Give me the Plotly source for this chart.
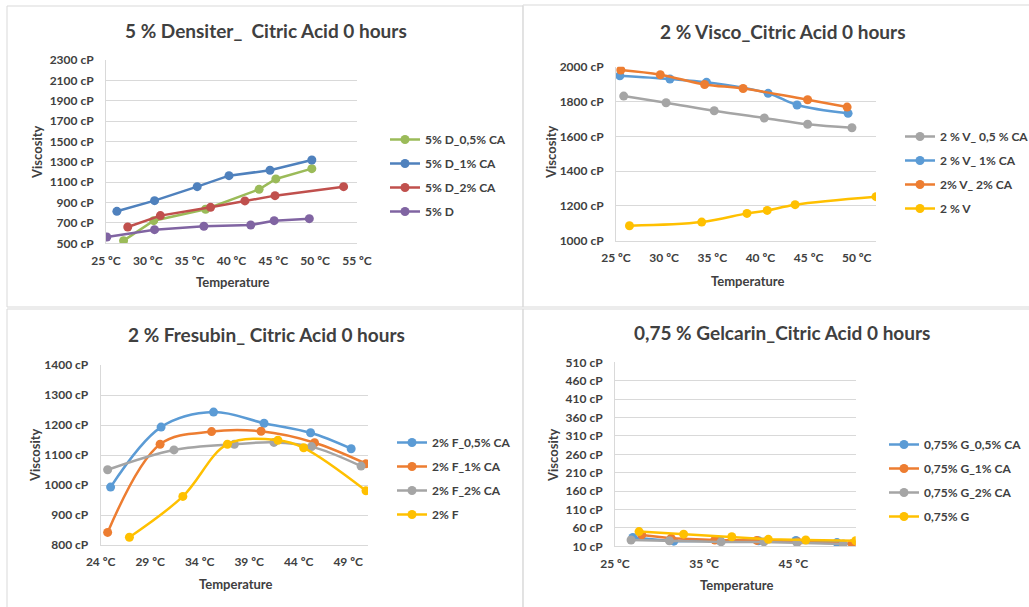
import plotly.graph_objects as go

W, H = 1029, 607

# ---- 5 % Densiter ----
dens_titles = ["5% D_0,5% CA", "5% D_1% CA", "5% D_2% CA", "5% D"]
dens_x = [
    [27.1, 30.7, 36.9, 43.3, 45.3, 49.6],
    [26.3, 30.8, 35.9, 39.7, 44.6, 49.6],
    [27.6, 31.5, 37.5, 41.6, 45.2, 53.4],
    [25.1, 30.8, 36.7, 42.3, 45.1, 49.3],
]
dens_y = [
    [526, 722, 834, 1030, 1132, 1233],
    [814, 919, 1056, 1164, 1217, 1318],
    [660, 772, 853, 916, 968, 1056],
    [562, 634, 667, 680, 722, 742],
]
dens_colors = ["#9bbb59", "#4f81bd", "#c0504d", "#8064a2"]

# ---- 2 % Visco ----
visco_titles = ["2 % V_ 0,5 % CA", "2 % V_ 1% CA", "2% V_ 2% CA", "2 % V"]
visco_x = [
    [25.8, 30.2, 35.2, 40.4, 44.9, 49.5],
    [25.4, 30.6, 34.4, 40.8, 43.8, 49.1],
    [25.5, 29.6, 34.2, 38.2, 44.9, 49.0],
    [26.4, 33.9, 38.6, 40.7, 43.6, 52.0],
]
visco_y = [
    [1831, 1793, 1747, 1705, 1669, 1649],
    [1948, 1929, 1910, 1847, 1780, 1732],
    [1981, 1954, 1898, 1875, 1810, 1768],
    [1086, 1107, 1157, 1174, 1207, 1253],
]

# ---- 2 % Fresubin ----
fres_titles = ["2% F_0,5% CA", "2% F_1% CA", "2% F_2% CA", "2% F"]
fres_x = [
    [25.0, 30.1, 35.4, 40.5, 45.2, 49.3],
    [24.7, 30.0, 35.2, 40.2, 45.6, 50.8],
    [24.7, 31.4, 37.5, 41.5, 45.3, 50.3],
    [26.9, 32.3, 36.8, 41.9, 44.5, 50.8],
]
fres_y = [
    [993, 1193, 1243, 1206, 1174, 1121],
    [842, 1136, 1178, 1179, 1141, 1071],
    [1051, 1117, 1136, 1142, 1128, 1063],
    [826, 962, 1136, 1149, 1124, 981],
]

# ---- 0,75 % Gelcarin ----
gel_titles = ["0,75% G_0,5% CA", "0,75% G_1% CA", "0,75% G_2% CA", "0,75% G"]
gel_x = [
    [27.0, 31.6, 36.8, 41.1, 45.3, 49.9],
    [28.0, 31.3, 36.2, 40.9, 45.5, 51.6],
    [26.8, 31.1, 36.9, 41.7, 45.4, 50.6],
    [27.7, 32.7, 38.1, 42.2, 46.4, 52.0],
]
gel_y = [
    [34, 24, 25, 25, 26, 20],
    [41, 32, 27, 26, 22, 17],
    [27, 25, 22, 22, 20, 16],
    [50, 43, 36, 29, 27, 25],
]

office_colors = ["#5b9bd5", "#ed7d31", "#a5a5a5", "#ffc000"]
visco_colors = ["#a5a5a5", "#5b9bd5", "#ed7d31", "#ffc000"]

TXT = "#404040"
GRID = "#d9d9d9"
FONT = "Lato"

panels = [
    dict(title="5 % Densiter_  Citric Acid 0 hours", names=dens_titles, xs=dens_x, ys=dens_y,
         colors=dens_colors, shape="linear",
         px=(106, 357), py=(60, 243.3), xr=[25, 55], x0=25, dx=5, yr=[500, 2300], y0=500, dy=200,
         title_xy=(266, 30), xt_xy=(232, 282), yt_xy=(37, 152), leg_xy=(385, 125)),
    dict(title="2 % Visco_Citric Acid 0 hours", names=visco_titles, xs=visco_x, ys=visco_y,
         colors=visco_colors, shape="spline",
         px=(616, 876), py=(66.7, 240.7), xr=[25, 52], x0=25, dx=5, yr=[1000, 2000], y0=1000, dy=200,
         title_xy=(782, 32), xt_xy=(747, 281), yt_xy=(551, 152), leg_xy=(900, 122)),
    dict(title="2 % Fresubin_ Citric Acid 0 hours", names=fres_titles, xs=fres_x, ys=fres_y,
         colors=office_colors, shape="spline",
         px=(100.7, 368), py=(365, 545), xr=[24, 51], x0=24, dx=5, yr=[800, 1400], y0=800, dy=100,
         title_xy=(266, 334), xt_xy=(235, 584), yt_xy=(35, 455), leg_xy=(392, 428)),
    dict(title="0,75 % Gelcarin_Citric Acid 0 hours", names=gel_titles, xs=gel_x, ys=gel_y,
         colors=office_colors, shape="linear",
         px=(615, 855.7), py=(362.3, 546.3), xr=[25, 52], x0=25, dx=10, yr=[10, 510], y0=10, dy=50,
         title_xy=(782, 333), xt_xy=(736, 585), yt_xy=(553, 455), leg_xy=(884, 430)),
]

fig = go.Figure()
annotations = []
shapes = []

# panel frames
frames = [(7, 6, 523, 307), (523, 5, 1040, 307), (7, 309, 523, 620), (523, 309, 1040, 620)]
for x0, y0, x1, y1 in frames:
    shapes.append(dict(type="rect", xref="paper", yref="paper",
                       x0=x0 / W, x1=x1 / W, y0=1 - y1 / H, y1=1 - y0 / H,
                       line=dict(color=GRID, width=1), fillcolor="rgba(0,0,0,0)", layer="below"))

layout_axes = {}
for i, p in enumerate(panels, start=1):
    sfx = "" if i == 1 else str(i)
    leg = "legend" if i == 1 else f"legend{i}"
    for name, xs, ys, col in zip(p["names"], p["xs"], p["ys"], p["colors"]):
        fig.add_trace(go.Scatter(
            x=xs, y=ys, name=name, mode="lines+markers",
            line=dict(color=col, width=2.5, shape=p["shape"], smoothing=1),
            marker=dict(color=col, size=9),
            xaxis=f"x{sfx}", yaxis=f"y{sfx}", legend=leg, legendgroup=f"{i}-{name}",
        ))
    layout_axes[f"xaxis{sfx}"] = dict(
        domain=[p["px"][0] / W, p["px"][1] / W], range=p["xr"], anchor=f"y{sfx}",
        tick0=p["x0"], dtick=p["dx"], ticksuffix=" ºC", showgrid=False, zeroline=False,
        showline=True, linecolor=GRID, linewidth=1, ticks="outside", ticklen=6,
        tickcolor="rgba(0,0,0,0)", tickfont=dict(family=FONT, size=12, color=TXT, weight="bold"),
    )
    layout_axes[f"yaxis{sfx}"] = dict(
        domain=[1 - p["py"][1] / H, 1 - p["py"][0] / H], range=p["yr"], anchor=f"x{sfx}",
        tick0=p["y0"], dtick=p["dy"], ticksuffix=" cP", showgrid=True, gridcolor=GRID,
        gridwidth=1, zeroline=False, showline=True, linecolor=GRID, linewidth=1,
        ticks="outside", ticklen=9, tickcolor="rgba(0,0,0,0)",
        tickfont=dict(family=FONT, size=12, color=TXT, weight="bold"),
    )
    layout_axes[leg] = dict(
        x=p["leg_xy"][0] / W, y=1 - p["leg_xy"][1] / H, xanchor="left", yanchor="top",
        font=dict(family=FONT, size=12, color=TXT, weight="bold"), bgcolor="rgba(0,0,0,0)",
        tracegroupgap=5, itemwidth=30,
    )
    annotations.append(dict(text=p["title"], x=p["title_xy"][0] / W, y=1 - p["title_xy"][1] / H,
                            xref="paper", yref="paper", showarrow=False, xanchor="center", yanchor="middle",
                            font=dict(family=FONT, size=19, color=TXT, weight="bold")))
    annotations.append(dict(text="Temperature", x=p["xt_xy"][0] / W, y=1 - p["xt_xy"][1] / H,
                            xref="paper", yref="paper", showarrow=False, xanchor="center", yanchor="middle",
                            font=dict(family=FONT, size=13, color=TXT, weight="bold")))
    annotations.append(dict(text="Viscosity", x=p["yt_xy"][0] / W, y=1 - p["yt_xy"][1] / H,
                            xref="paper", yref="paper", showarrow=False, xanchor="center", yanchor="middle",
                            textangle=-90, font=dict(family=FONT, size=13, color=TXT, weight="bold")))

fig.update_layout(
    width=W, height=H, margin=dict(l=0, r=0, t=0, b=0, autoexpand=False),
    paper_bgcolor="white", plot_bgcolor="white",
    annotations=annotations, shapes=shapes, showlegend=True,
    **layout_axes,
)

fig.write_html("out.html")
